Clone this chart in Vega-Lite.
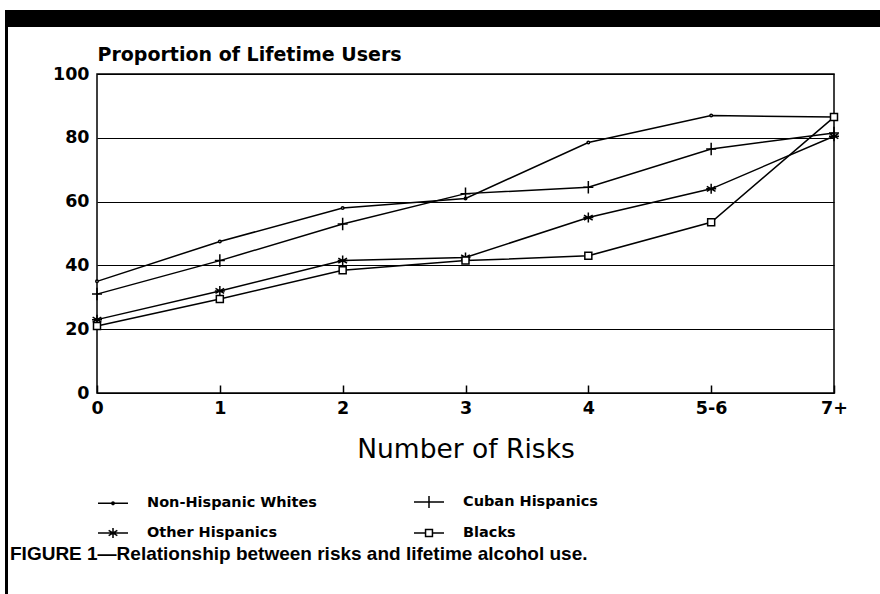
{
  "$schema": "https://vega.github.io/schema/vega-lite/v6.json",
  "padding": {"left": 5, "top": 10, "right": 0, "bottom": 0},
  "background": "white",
  "config": {"view": {"stroke": null}, "font": "DejaVu Sans"},
  "spacing": 0,
  "bounds": "flush",
  "hconcat": [
    {
      "width": 3,
      "height": 584,
      "view": {"fill": "black", "stroke": null},
      "data": {"values": []},
      "mark": "rule",
      "encoding": {}
    },
    {
      "spacing": 47,
      "bounds": "flush",
      "vconcat": [
        {
          "width": 872,
          "height": 17,
          "view": {"fill": "black", "stroke": null},
          "data": {"values": []},
          "mark": "rule",
          "encoding": {}
        },
        {
          "spacing": 0,
          "bounds": "flush",
          "hconcat": [
            {
              "width": 89,
              "height": 319,
              "view": {"stroke": null},
              "data": {"values": []},
              "mark": "rule",
              "encoding": {}
            },
            {
              "width": 737,
              "height": 319,
              "view": {"stroke": "black", "strokeWidth": 1.5},
              "title": {
                "text": "FIGURE 1\u2014Relationship between risks and lifetime alcohol use.",
                "orient": "bottom",
                "anchor": "start",
                "frame": "group",
                "dx": -87,
                "offset": 4,
                "font": "Liberation Sans",
                "fontSize": 19,
                "fontWeight": "bold",
                "color": "black"
              },
              "data": {
                "values": [
                  {"group": "Non-Hispanic Whites", "risks": "0", "pct": 35},
                  {"group": "Non-Hispanic Whites", "risks": "1", "pct": 47.5},
                  {"group": "Non-Hispanic Whites", "risks": "2", "pct": 58},
                  {"group": "Non-Hispanic Whites", "risks": "3", "pct": 61},
                  {"group": "Non-Hispanic Whites", "risks": "4", "pct": 78.5},
                  {"group": "Non-Hispanic Whites", "risks": "5-6", "pct": 87},
                  {"group": "Non-Hispanic Whites", "risks": "7+", "pct": 86.5},
                  {"group": "Cuban Hispanics", "risks": "0", "pct": 31},
                  {"group": "Cuban Hispanics", "risks": "1", "pct": 41.5},
                  {"group": "Cuban Hispanics", "risks": "2", "pct": 53},
                  {"group": "Cuban Hispanics", "risks": "3", "pct": 62.5},
                  {"group": "Cuban Hispanics", "risks": "4", "pct": 64.5},
                  {"group": "Cuban Hispanics", "risks": "5-6", "pct": 76.5},
                  {"group": "Cuban Hispanics", "risks": "7+", "pct": 81.5},
                  {"group": "Other Hispanics", "risks": "0", "pct": 23},
                  {"group": "Other Hispanics", "risks": "1", "pct": 32},
                  {"group": "Other Hispanics", "risks": "2", "pct": 41.5},
                  {"group": "Other Hispanics", "risks": "3", "pct": 42.5},
                  {"group": "Other Hispanics", "risks": "4", "pct": 55},
                  {"group": "Other Hispanics", "risks": "5-6", "pct": 64},
                  {"group": "Other Hispanics", "risks": "7+", "pct": 80.5},
                  {"group": "Blacks", "risks": "0", "pct": 21},
                  {"group": "Blacks", "risks": "1", "pct": 29.5},
                  {"group": "Blacks", "risks": "2", "pct": 38.5},
                  {"group": "Blacks", "risks": "3", "pct": 41.5},
                  {"group": "Blacks", "risks": "4", "pct": 43},
                  {"group": "Blacks", "risks": "5-6", "pct": 53.5},
                  {"group": "Blacks", "risks": "7+", "pct": 86.5}
                ]
              },
              "encoding": {
                "x": {
                  "field": "risks",
                  "type": "ordinal",
                  "sort": ["0", "1", "2", "3", "4", "5-6", "7+"],
                  "scale": {"type": "point", "padding": 0},
                  "axis": {
                    "title": "Number of Risks",
                    "titleFont": "DejaVu Sans",
                    "titleFontSize": 26.5,
                    "titleFontWeight": "normal",
                    "titleColor": "black",
                    "titlePadding": 20,
                    "labelAngle": 0,
                    "labelFont": "DejaVu Sans",
                    "labelFontSize": 17.5,
                    "labelFontWeight": "bold",
                    "labelColor": "black",
                    "labelPadding": 14,
                    "ticks": true,
                    "tickSize": -8,
                    "tickColor": "black",
                    "tickWidth": 1.5,
                    "domain": false,
                    "grid": false
                  }
                },
                "y": {
                  "field": "pct",
                  "type": "quantitative",
                  "scale": {"domain": [0, 100], "nice": false},
                  "axis": {
                    "values": [0, 20, 40, 60, 80, 100],
                    "title": "Proportion of Lifetime Users",
                    "titleAngle": 0,
                    "titleAlign": "left",
                    "titleBaseline": "alphabetic",
                    "titleX": 0,
                    "titleY": -14,
                    "titleFont": "DejaVu Sans",
                    "titleFontSize": 19,
                    "titleFontWeight": "bold",
                    "titleColor": "black",
                    "labelFont": "DejaVu Sans",
                    "labelFontSize": 17.5,
                    "labelFontWeight": "bold",
                    "labelColor": "black",
                    "labelPadding": 8,
                    "ticks": false,
                    "domain": false,
                    "grid": true,
                    "gridColor": "black",
                    "gridWidth": 1.2,
                    "gridOpacity": 1
                  }
                }
              },
              "resolve": {"scale": {"shape": "independent"}, "legend": {"shape": "independent"}},
              "layer": [
                {
                  "mark": {"type": "line", "color": "black", "strokeWidth": 1.5},
                  "encoding": {"detail": {"field": "group"}}
                },
                {
                  "mark": {"type": "point", "filled": true, "fill": "white", "stroke": "black", "strokeWidth": 1.5, "opacity": 1, "size": 100},
                  "encoding": {
                    "shape": {
                      "field": "group",
                      "type": "nominal",
                      "scale": {
                        "domain": ["Non-Hispanic Whites", "Cuban Hispanics", "Other Hispanics", "Blacks"],
                        "range": [
                          "M-0.25,0A0.25,0.25 0 1,0 0.25,0A0.25,0.25 0 1,0 -0.25,0Z",
                          "M-1,0L1,0M0,-1.25L0,1.25",
                          "M0,-1L0,1M-0.87,-0.5L0.87,0.5M-0.87,0.5L0.87,-0.5M-1,0L1,0",
                          "M-0.7,-0.7H0.7V0.7H-0.7Z"
                        ]
                      },
                      "legend": null
                    }
                  }
                },
                {
                  "transform": [{"filter": "datum.pct < 0"}],
                  "mark": {"type": "point", "filled": false, "stroke": "black", "strokeWidth": 1.5, "opacity": 1, "size": 900},
                  "encoding": {
                    "shape": {
                      "field": "group",
                      "type": "nominal",
                      "scale": {
                        "domain": ["Non-Hispanic Whites", "Cuban Hispanics", "Other Hispanics", "Blacks"],
                        "range": [
                          "M-1,0L1,0M-0.08,0A0.08,0.08 0 1,0 0.08,0A0.08,0.08 0 1,0 -0.08,0Z",
                          "M-1,0L1,0M0,-0.4L0,0.4",
                          "M-1,0L1,0M0,-0.33L0,0.33M-0.29,-0.17L0.29,0.17M-0.29,0.17L0.29,-0.17",
                          "M-1,0L-0.23,0M0.23,0L1,0M-0.23,-0.23H0.23V0.23H-0.23Z"
                        ]
                      },
                      "legend": {
                        "title": null,
                        "orient": "none",
                        "legendX": 0,
                        "legendY": 412,
                        "direction": "horizontal",
                        "columns": 2,
                        "columnPadding": 94,
                        "rowPadding": 6,
                        "symbolSize": 900,
                        "symbolStrokeWidth": 1.5,
                        "symbolStrokeColor": "black",
                        "symbolOpacity": 1,
                        "labelFont": "DejaVu Sans",
                        "labelFontSize": 14.5,
                        "labelFontWeight": "bold",
                        "labelColor": "black",
                        "labelOffset": 18,
                        "labelLimit": 300
                      }
                    }
                  }
                }
              ]
            }
          ]
        }
      ]
    }
  ]
}
